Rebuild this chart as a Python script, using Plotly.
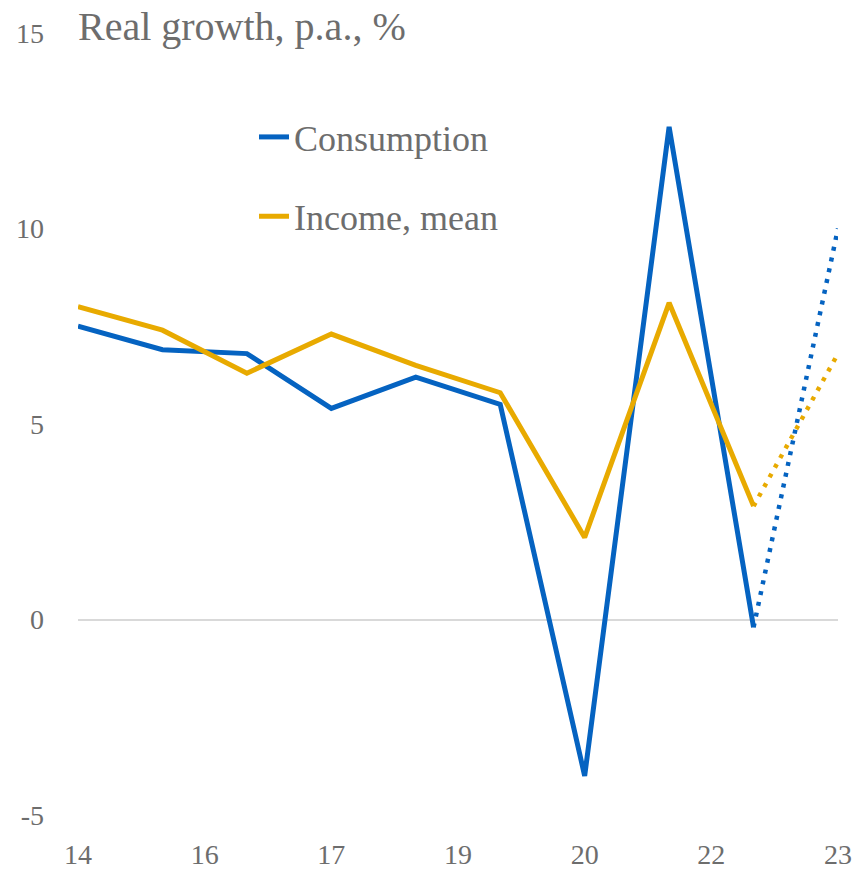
import plotly.graph_objects as go

# x positions are evenly spaced periods, labelled every 1.5 steps
periods = list(range(10))
tick_pos = [0, 1.5, 3, 4.5, 6, 7.5, 9]
tick_labels = ["14", "16", "17", "19", "20", "22", "23"]
y_ticks = [-5, 0, 5, 10, 15]
y_labels = ["-5", "0", "5", "10", "15"]

consumption = [7.5, 6.9, 6.8, 5.4, 6.2, 5.5, -4.0, 12.6, -0.2]
income_mean = [8.0, 7.4, 6.3, 7.3, 6.5, 5.8, 2.1, 8.1, 2.9]
# projected values for the last period
consumption_proj = 10.0
income_proj = 6.8

blue = "#0563c1"
gold = "#e8aa00"
grey_txt = "#6d6d6d"
font_family = "Liberation Serif, DejaVu Serif, serif"
lw = 5

fig = go.Figure()

fig.add_trace(go.Scatter(
    x=periods[:len(consumption)], y=consumption, mode="lines",
    name="Consumption", line=dict(color=blue, width=lw), legend="legend"))
fig.add_trace(go.Scatter(
    x=periods[:len(income_mean)], y=income_mean, mode="lines",
    name="Income, mean", line=dict(color=gold, width=lw), legend="legend2"))

# dotted projections
fig.add_trace(go.Scatter(
    x=[periods[8], periods[9]], y=[income_mean[-1], income_proj], mode="lines",
    line=dict(color=gold, width=lw - 0.5, dash="4px,7px"), showlegend=False))
fig.add_trace(go.Scatter(
    x=[periods[8], periods[9]], y=[consumption[-1], consumption_proj], mode="lines",
    line=dict(color=blue, width=lw - 0.5, dash="4px,7px"), showlegend=False))

legend_style = dict(
    xanchor="left", yanchor="middle", bgcolor="rgba(0,0,0,0)",
    font=dict(family=font_family, size=36, color=grey_txt),
    itemwidth=30, borderwidth=0,
)

fig.update_layout(
    width=858, height=873,
    margin=dict(l=78, r=20, t=33, b=58, autoexpand=False),
    paper_bgcolor="white", plot_bgcolor="white",
    font=dict(family=font_family, color=grey_txt),
    title=dict(text="Real growth, p.a., %", x=78 / 858, xanchor="left",
               y=1 - 26 / 873, yanchor="middle",
               font=dict(family=font_family, size=40, color=grey_txt)),
    legend=dict(x=0.2316, y=0.867, **legend_style),
    legend2=dict(x=0.2316, y=0.7655, **legend_style),
    xaxis=dict(range=[0, 9], tickvals=tick_pos, ticktext=tick_labels,
               showgrid=False, zeroline=False, showline=False, ticks="",
               automargin=False,
               tickfont=dict(size=28, color=grey_txt), ticklabelstandoff=20),
    yaxis=dict(range=[-5, 15], tickvals=y_ticks, ticktext=y_labels,
               showgrid=False, zeroline=True, zerolinecolor="#d9d9d9",
               zerolinewidth=2, showline=False, ticks="", automargin=False,
               tickfont=dict(size=28, color=grey_txt), ticklabelstandoff=33),
)

# page body has a default 8px margin, drop it so the figure fills the window
fig.write_html("out.html", config={"displayModeBar": False},
               post_script="document.body.style.margin='0';")
